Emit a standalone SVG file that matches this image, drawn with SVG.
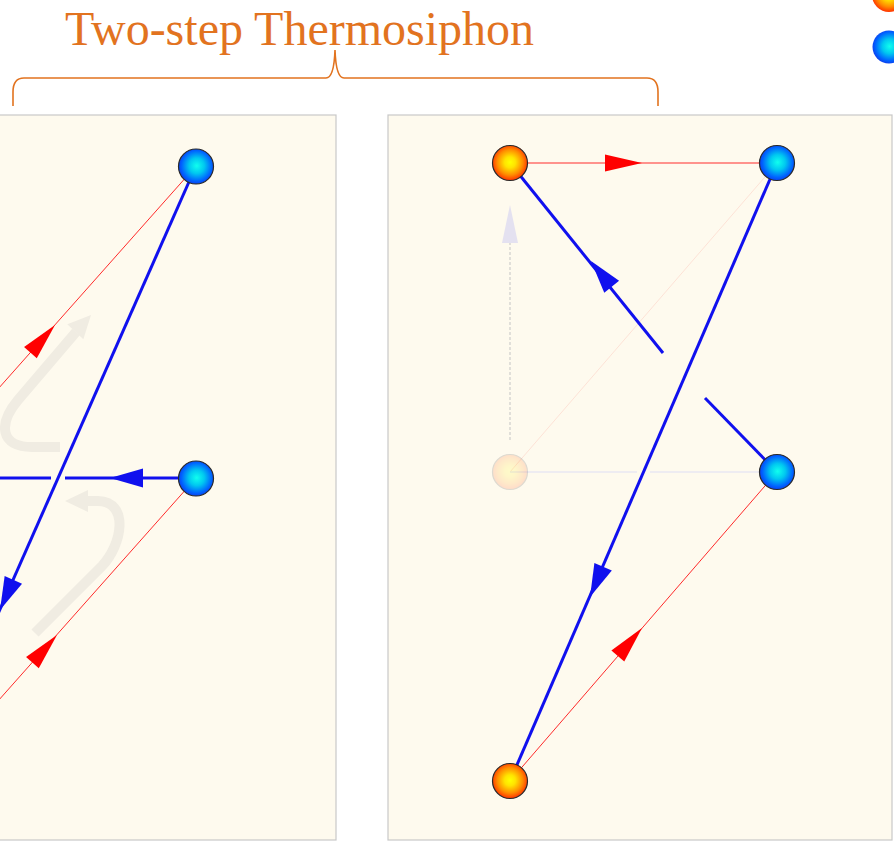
<svg xmlns="http://www.w3.org/2000/svg" xmlns:xlink="http://www.w3.org/1999/xlink" width="894" height="844" viewBox="0 0 894 844">
<style>
.panel{fill:#fefaee;stroke:#c8c8c8;stroke-width:1.2}
.red{stroke:#ff2a2a;stroke-width:1;fill:none}
.blue{stroke:#1010ee;stroke-width:3;fill:none}
.gray{stroke:#f0ece2;stroke-width:10;fill:none}
.node{stroke:#2a2a2a;stroke-width:1.2}
.title{font-family:"Liberation Serif","Times New Roman",serif;font-size:48px;fill:#e2731f}
</style>
<defs>
<radialGradient id="gO" cx="50%" cy="48%" r="52%">
<stop offset="0" stop-color="#ffff00"/>
<stop offset="0.3" stop-color="#ffe400"/>
<stop offset="0.7" stop-color="#ff8c00"/>
<stop offset="1" stop-color="#ff3300"/>
</radialGradient>
<radialGradient id="gB" cx="52%" cy="48%" r="55%">
<stop offset="0" stop-color="#10ffee"/>
<stop offset="0.4" stop-color="#00c8f0"/>
<stop offset="0.8" stop-color="#0060ff"/>
<stop offset="1" stop-color="#1038e8"/>
</radialGradient>
<path id="ahR" d="M0,0 L-37,-8.5 L-37,8.5 Z" fill="#ff0000"/>
<path id="ahB" d="M0,0 L-33,-9.5 L-33,9.5 Z" fill="#1010ee"/>
<path id="ahG" d="M0,0 L-23,-11 L-23,11 Z" fill="#f0ece2"/>
</defs>

<rect width="894" height="844" fill="#ffffff"/>

<!-- panels -->
<rect class="panel" x="-200" y="115" width="536" height="725"/>
<rect class="panel" x="388" y="115" width="504" height="725"/>

<!-- title and brace -->
<text class="title" x="65" y="45">Two-step Thermosiphon</text>
<path d="M13,106 L13,92 Q13,78 24,78 L326,78 Q334,78 335,50 Q336,78 344,78 L647,78 Q658,78 658,92 L658,106" fill="none" stroke="#e2731f" stroke-width="1.6"/>

<g id="connectors">
<!-- left panel gray curved arrows -->
<path class="gray" d="M60,447 L32,447 C0,447 -2,424 18,400 L76,332"/>
<use xlink:href="#ahG" transform="translate(91,315) rotate(-47)"/>
<path class="gray" d="M35,633 L102,566 C122,545 130,502 98,501 L86,501"/>
<use xlink:href="#ahG" transform="translate(65,501) rotate(180)"/>

<!-- left panel lines -->
<line class="red" x1="196" y1="166" x2="-10" y2="398"/>
<use xlink:href="#ahR" transform="translate(55,325) rotate(-48.4)"/>
<line class="red" x1="196" y1="478" x2="-10" y2="710"/>
<use xlink:href="#ahR" transform="translate(57,635) rotate(-48.4)"/>
<line class="blue" x1="196" y1="478" x2="65" y2="478"/>
<line class="blue" x1="51" y1="478" x2="-5" y2="478"/>
<use xlink:href="#ahB" transform="translate(110,478) rotate(180)"/>
<line class="blue" x1="196" y1="166" x2="-10" y2="632"/>
<use xlink:href="#ahB" transform="translate(0,610) rotate(113.85)"/>

<!-- right panel faint lines -->
<line x1="510" y1="472" x2="777" y2="163" stroke="#fde2d6" stroke-width="1"/>
<line x1="510" y1="472" x2="637" y2="472" stroke="#e9e7f2" stroke-width="1.5"/>
<line x1="650" y1="472" x2="777" y2="472" stroke="#e9e7f2" stroke-width="1.5"/>
<line x1="510" y1="440" x2="510" y2="243" stroke="#c4c4c4" stroke-width="1" stroke-dasharray="3,2"/>
<path d="M510,205 L502,243 L518,243 Z" fill="#e4e1f0"/>

<!-- right panel lines -->
<line class="red" x1="510" y1="163" x2="777" y2="163"/>
<use xlink:href="#ahR" transform="translate(642,163)"/>
<line class="red" x1="510" y1="781" x2="777" y2="472"/>
<use xlink:href="#ahR" transform="translate(642,628) rotate(-49.2)"/>
<line class="blue" x1="510" y1="163" x2="663" y2="353"/>
<use xlink:href="#ahB" transform="translate(591,261) rotate(-128.8)"/>
<line class="blue" x1="705" y1="398" x2="777" y2="472"/>
<line class="blue" x1="777" y1="163" x2="510" y2="781"/>
<use xlink:href="#ahB" transform="translate(590,597) rotate(113.4)"/>
</g>

<!-- left panel nodes -->
<g id="L_cold_top"><circle class="node" cx="196" cy="166.5" r="17.5" fill="url(#gB)"/></g>
<g id="L_cold_mid"><circle class="node" cx="196" cy="478.5" r="17.5" fill="url(#gB)"/></g>

<!-- right panel nodes -->
<g id="R_hot_top"><circle class="node" cx="510" cy="163" r="17.5" fill="url(#gO)"/></g>
<g id="R_cold_top"><circle class="node" cx="777" cy="163" r="17.5" fill="url(#gB)"/></g>
<g id="R_hot_mid_faded" opacity="0.15"><circle class="node" cx="510" cy="472" r="17.5" fill="url(#gO)" stroke="#ff8a40"/></g>
<g id="R_cold_mid"><circle class="node" cx="777" cy="472" r="17.5" fill="url(#gB)"/></g>
<g id="R_hot_bot"><circle class="node" cx="510" cy="781" r="17.5" fill="url(#gO)"/></g>

<!-- legend -->
<g id="legend_hot"><circle cx="889" cy="-5" r="17" fill="url(#gO)"/></g>
<g id="legend_cold"><circle cx="889" cy="47" r="16.5" fill="url(#gB)"/></g>
</svg>
